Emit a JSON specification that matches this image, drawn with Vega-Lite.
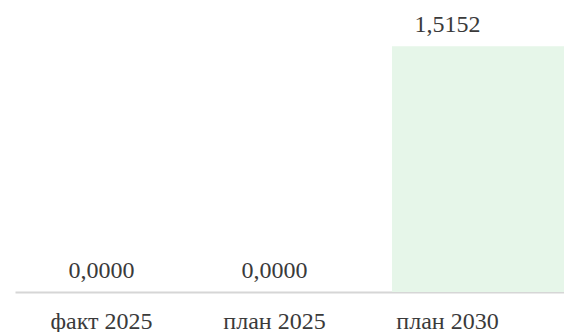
{
  "$schema": "https://vega.github.io/schema/vega-lite/v6.json",
  "width": 549,
  "height": 292,
  "autosize": {"type": "none"},
  "padding": {"left": 15, "top": 0, "right": 0, "bottom": 40},
  "background": "white",
  "data": {
    "values": [
      {"period": "факт 2025", "value": 0, "label": "0,0000"},
      {"period": "план 2025", "value": 0, "label": "0,0000"},
      {"period": "план 2030", "value": 1.5152, "label": "1,5152"}
    ]
  },
  "config": {"view": {"stroke": null}, "font": "serif"},
  "layer": [
    {
      "mark": {"type": "bar", "color": "#e6f6e9"},
      "encoding": {
        "x": {
          "field": "period", "type": "nominal", "sort": null, "axis": null,
          "scale": {"type": "band", "paddingInner": 0, "paddingOuter": 0.096, "align": 1}
        },
        "y": {
          "field": "value", "type": "quantitative", "axis": null,
          "scale": {"domain": [0, 1.8], "nice": false}
        }
      }
    },
    {
      "mark": {"type": "text", "baseline": "alphabetic", "dy": -14, "fontSize": 24, "color": "#3a3a3a", "font": "serif"},
      "encoding": {
        "x": {
          "field": "period", "type": "nominal", "sort": null, "bandPosition": 0.5,
          "scale": {"type": "band", "paddingInner": 0, "paddingOuter": 0.0867, "align": 0},
          "axis": {
            "title": null, "labelAngle": 0, "domain": true, "domainColor": "#d6d6d6", "domainWidth": 2,
            "ticks": false, "tickSize": 0, "grid": false, "labelPadding": 36,
            "labelFontSize": 24, "labelColor": "#3a3a3a", "labelFont": "Times New Roman",
            "labelBaseline": "alphabetic"
          }
        },
        "y": {
          "field": "value", "type": "quantitative", "axis": null,
          "scale": {"domain": [0, 1.8], "nice": false}
        },
        "text": {"field": "label"}
      }
    }
  ],
  "resolve": {"scale": {"x": "independent", "y": "shared"}}
}
